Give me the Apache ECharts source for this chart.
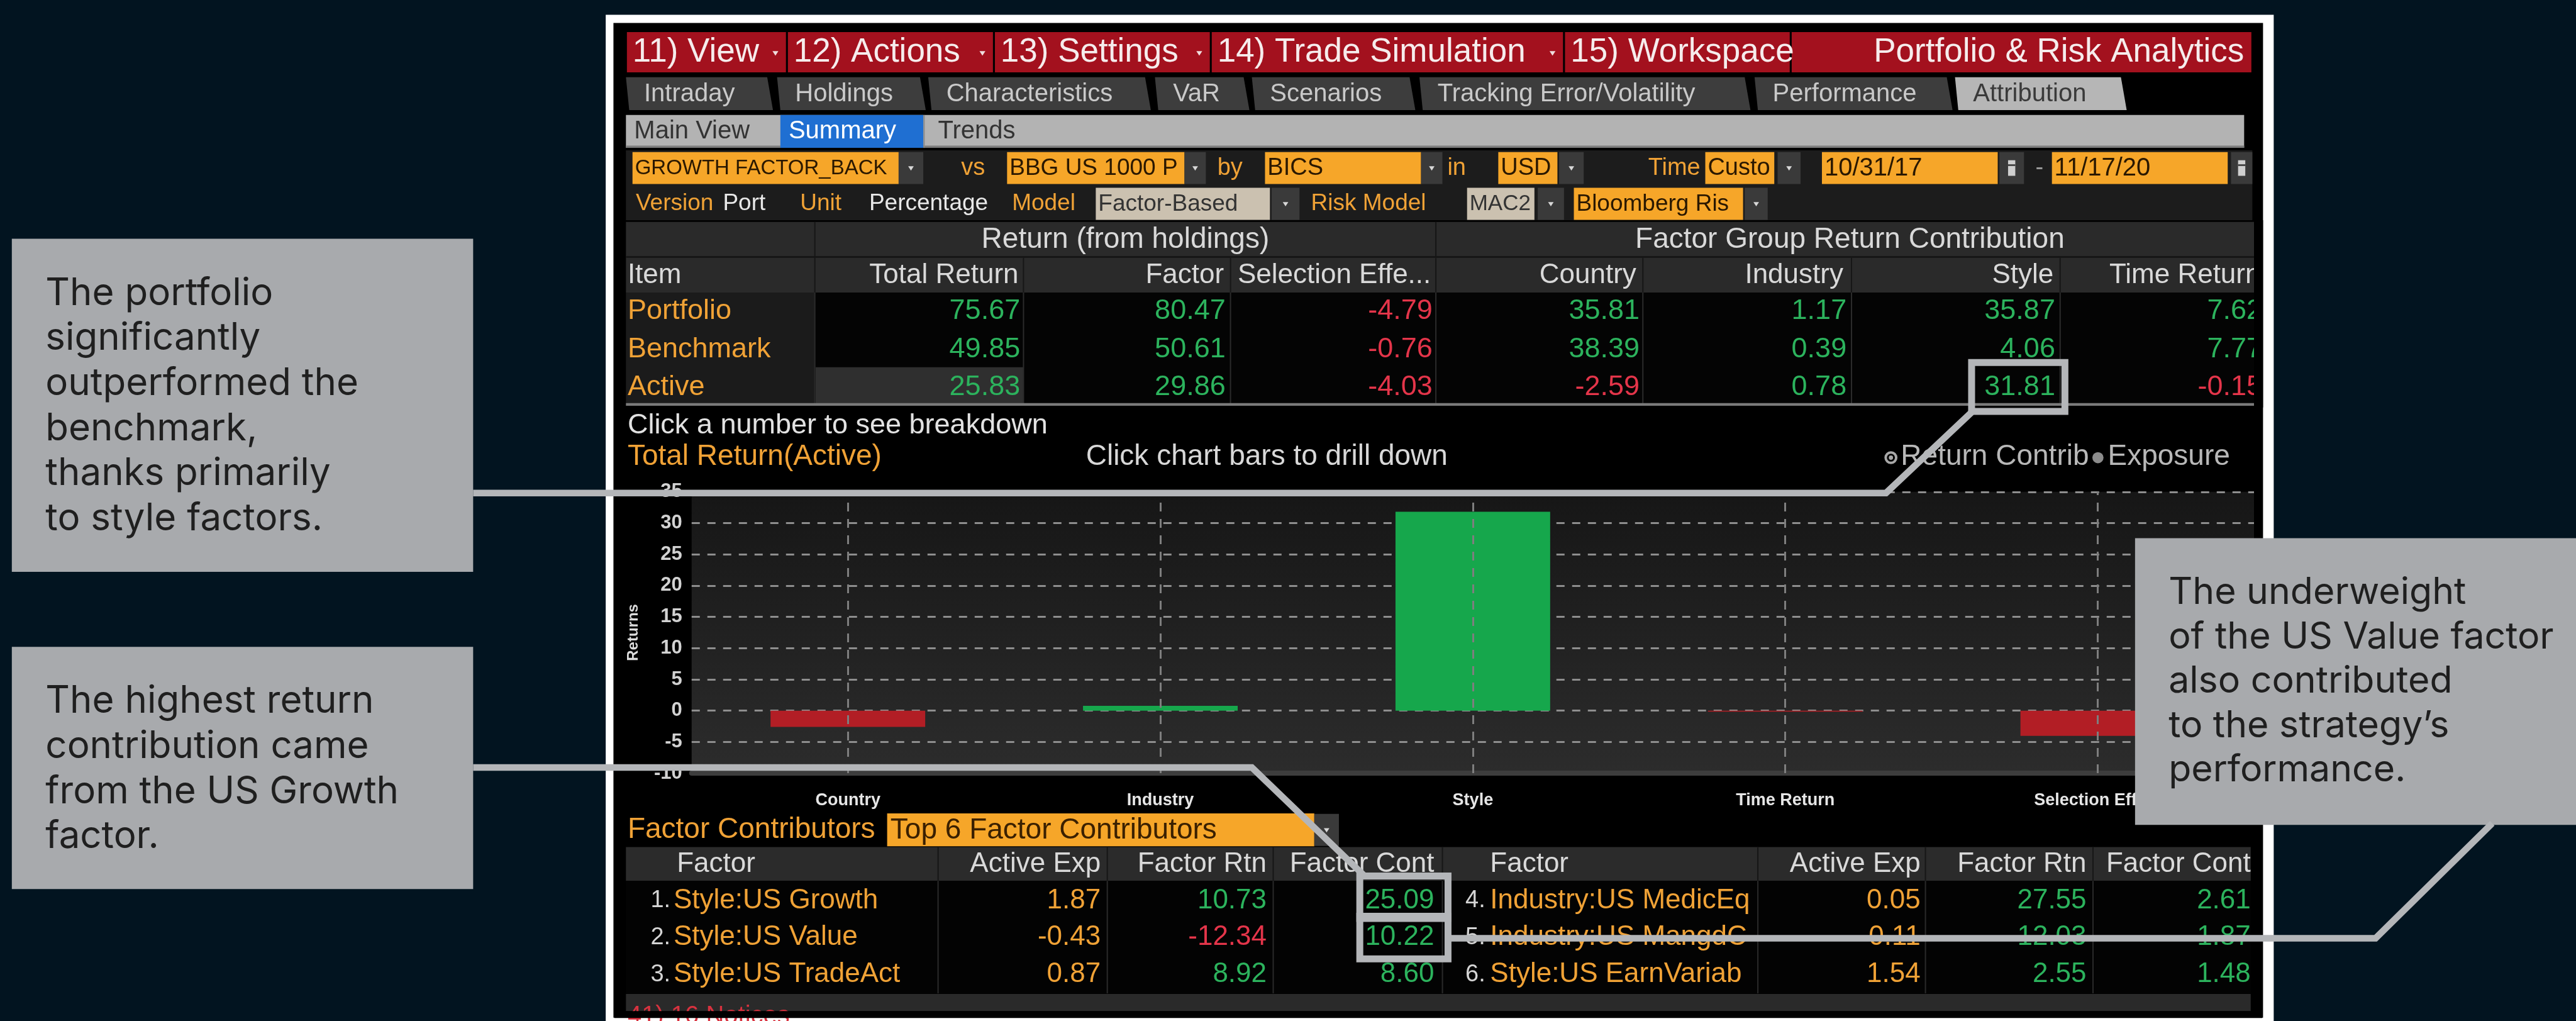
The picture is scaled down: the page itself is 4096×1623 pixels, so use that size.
<!DOCTYPE html>
<html><head><meta charset="utf-8">
<script src="https://cdn.jsdelivr.net/npm/echarts@6/dist/echarts.min.js"></script>
<style>html,body{margin:0;padding:0;background:#021420;}#c{width:4096px;height:1623px;}</style>
</head><body><div id="c"></div>
<script>
// ---------------- data ----------------
const categories = ['Country', 'Industry', 'Style', 'Time Return', 'Selection Effect'];
const activeReturns = [-2.59, 0.78, 31.81, -0.15, -4.03];
const yMin = -10, yMax = 35, yInterval = 5;

const returnItems = ['Portfolio', 'Benchmark', 'Active'];
const returnHeaders = ['Total Return', 'Factor', 'Selection Effe...', 'Country', 'Industry', 'Style', 'Time Return'];
const totalReturn = [75.67, 49.85, 25.83];
const factorReturn = [80.47, 50.61, 29.86];
const selectionEffect = [-4.79, -0.76, -4.03];
const countryContrib = [35.81, 38.39, -2.59];
const industryContrib = [1.17, 0.39, 0.78];
const styleContrib = [35.87, 4.06, 31.81];
const timeReturn = [7.62, 7.77, -0.15];

const factorNames = ['Style:US Growth', 'Style:US Value', 'Style:US TradeAct', 'Industry:US MedicEq', 'Industry:US MangdCo', 'Style:US EarnVariab'];
const factorActiveExp = [1.87, -0.43, 0.87, 0.05, 0.11, 1.54];
const factorRtn = [10.73, -12.34, 8.92, 27.55, 12.03, 2.55];
const factorCont = [25.09, 10.22, 8.60, 2.61, 1.87, 1.48];

const menuLabels = ['11) View', '12) Actions', '13) Settings', '14) Trade Simulation', '15) Workspace', 'Portfolio & Risk Analytics'];
const tabLabels = ['Intraday', 'Holdings', 'Characteristics', 'VaR', 'Scenarios', 'Tracking Error/Volatility', 'Performance', 'Attribution'];
const note1 = ['The portfolio', 'significantly', 'outperformed the', 'benchmark,', 'thanks primarily', 'to style factors.'];
const note2 = ['The highest return', 'contribution came', 'from the US Growth', 'factor.'];
const note3 = ['The underweight', 'of the US Value factor', 'also contributed', 'to the strategy\u2019s', 'performance.'];

// ---------------- layout helpers ----------------
const S = 4096 / 1568;
const P = v => +(v * S).toFixed(2);
const TF = '"Liberation Sans", Arial, Helvetica, sans-serif';
const AF = 'Inter, "Noto Sans", "Liberation Sans", sans-serif';
const ORANGE = '#f0a236', GREEN = '#2cb35d', RED = '#e4354a', HEAD = '#d9d9d9', LINEC = '#b4b6b9';
const E = [];
function rect(x, y, w, h, fill, z = -10) { E.push({type: 'rect', silent: true, z, shape: {x: P(x), y: P(y), width: P(w), height: P(h)}, style: {fill}}); }
function text(x, y, t, fill, size, align = 'left', z = -8, extra = {}, fam = TF) {
  E.push({type: 'text', silent: true, z, x: P(x), y: P(y), style: Object.assign({text: t, fill, fontSize: size, fontFamily: fam, align, textAlign: align, verticalAlign: 'middle', textVerticalAlign: 'middle'}, extra)});
}
function tri(cx, cy, w, h, fill, z = -8) { E.push({type: 'polygon', silent: true, z, shape: {points: [[P(cx - w / 2), P(cy - h / 2)], [P(cx + w / 2), P(cy - h / 2)], [P(cx), P(cy + h / 2)]]}, style: {fill}}); }
function poly(pts, fill, z = -10) { E.push({type: 'polygon', silent: true, z, shape: {points: pts.map(p => [P(p[0]), P(p[1])])}, style: {fill}}); }
function seg(x1, y1, x2, y2, stroke, w, z = -9) { E.push({type: 'line', silent: true, z, shape: {x1: P(x1), y1: P(y1), x2: P(x2), y2: P(y2)}, style: {stroke, lineWidth: w}}); }
function pline(pts, stroke, w, z) { E.push({type: 'polyline', silent: true, z, shape: {points: pts.map(p => [P(p[0]), P(p[1])])}, style: {stroke, lineWidth: w, lineJoin: 'miter', fill: null}}); }
function sbox(x, y, w, h, stroke, lw, z) { E.push({type: 'rect', silent: true, z, shape: {x: P(x), y: P(y), width: P(w), height: P(h)}, style: {fill: null, stroke, lineWidth: lw}}); }
const fmt = v => v.toFixed(2);

// ---------------- frame ----------------
rect(368.7, 9, 1015.3, 640, '#ffffff', -13);
rect(373.4, 14, 1004.1, 605.3, '#000000', -12);

// ---------------- menu bar ----------------
const menuX = [381, 479, 605, 737, 952, 1090, 1371];
menuLabels.forEach((m, i) => {
  const x0 = menuX[i], x1 = menuX[i + 1];
  rect(x0 + 0.6, 19.5, x1 - x0 - 1.2, 24.5, '#a3111e');
  if (i === 5) text(x1 - 5, 31.8, m, '#f6ecec', 53, 'right');
  else text(x0 + 4, 31.8, m, '#f6ecec', 53);
  if (i < 4) tri(x1 - 7, 32.5, 3.6, 2.8, '#f0dede');
});

// ---------------- tabs ----------------
const tabX = [[381, 469], [473, 562], [565, 699], [703, 759], [762, 860], [864, 1064], [1068, 1187], [1190, 1293]];
tabLabels.forEach((t, i) => {
  const [x0, x1] = tabX[i];
  const act = i === 7;
  poly([[x0, 47], [x1 - 2, 47], [x1 + 1.5, 67], [x0 + 2, 67]], act ? '#b6b6b6' : '#3d3d3d');
  text(x0 + 11, 57.3, t, act ? '#3a3a3a' : '#c9c9c9', 40);
});

// ---------------- sub tabs ----------------
rect(381, 70, 985, 20, '#b3b3b3');
rect(381, 88.6, 985, 1.4, '#7d7d7d', -9);
rect(475, 70, 87, 20, '#1f6fd2', -9);
seg(562.5, 70, 562.5, 90, '#8a8a8a', 2);
text(386, 80, 'Main View', '#333333', 40);
text(480, 80, 'Summary', '#ffffff', 40);
text(571, 80, 'Trends', '#333333', 40);

// ---------------- selector rows ----------------
rect(381, 91.5, 990, 42.5, '#1c1c1c');
function obox(x0, x1, y, t, fill, col, size, trunc = true) {
  rect(x0, y, x1 - x0, 19.5, fill, -9);
  text(x0 + 1.5, y + 10, t, col, size, 'left', -8, trunc ? {width: P(x1 - x0 - 2), overflow: 'truncate', ellipsis: ''} : {});
}
function dd(x0, x1, y) { rect(x0, y, x1 - x0, 19.5, '#3a3a3a', -9); tri((x0 + x1) / 2, y + 10, 3.4, 2.6, '#d8d8d8'); }
function cal(x0, x1, y) { rect(x0, y, x1 - x0, 19.5, '#3a3a3a', -9); rect((x0 + x1) / 2 - 2.2, y + 5, 4.4, 9.5, '#cfcfcf', -8); rect((x0 + x1) / 2 - 2.2, y + 7.5, 4.4, 1, '#3a3a3a', -7); }
const OB = '#f6a629', OT = '#2a1800';
obox(385, 547, 92.5, 'GROWTH FACTOR_BACKT', OB, OT, 33); dd(547, 562, 92.5);
text(585, 102.5, 'vs', ORANGE, 38);
obox(613, 721, 92.5, 'BBG US 1000 P', OB, OT, 37); dd(721, 734, 92.5);
text(741, 102.5, 'by', ORANGE, 38);
obox(770, 865, 92.5, 'BICS', OB, OT, 38); dd(865, 878, 92.5);
text(881, 102.5, 'in', ORANGE, 38);
obox(912, 948, 92.5, 'USD', OB, OT, 38); dd(949, 964, 92.5);
text(1035, 102.5, 'Time', ORANGE, 38, 'right');
obox(1038, 1080, 92.5, 'Custo', OB, OT, 38); dd(1082, 1096, 92.5);
obox(1109, 1216, 92.5, '10/31/17', OB, OT, 40); cal(1217, 1232, 92.5);
text(1239, 102.5, '-', '#9a9a9a', 38);
obox(1249, 1356, 92.5, '11/17/20', OB, OT, 40); cal(1358, 1371, 92.5);

text(387, 124, 'Version', ORANGE, 37);
text(440, 124, 'Port', '#e8e8e8', 37);
text(487, 124, 'Unit', ORANGE, 37);
text(529, 124, 'Percentage', '#e8e8e8', 37);
text(616, 124, 'Model', ORANGE, 37);
obox(667, 773, 114.3, 'Factor-Based', '#cbc1b0', '#333333', 37); dd(774, 791, 114.3);
text(798, 124, 'Risk Model', ORANGE, 37);
obox(893, 934, 114.3, 'MAC2', '#cbc1b0', '#333333', 35, false); dd(936, 952, 114.3);
obox(958, 1061, 114.3, 'Bloomberg Ris', OB, OT, 37); dd(1062, 1076, 114.3);

// ---------------- returns table ----------------
const colB = [496, 623, 749, 874, 1000, 1127, 1254];
rect(381, 135, 991, 43, '#2a2a2a');
rect(381, 155.8, 991, 1.2, '#161616', -9);
[496, 874].forEach(x => seg(x, 135, x, 156, '#161616', 2));
colB.forEach(x => seg(x, 157, x, 178, '#161616', 2));
text(685, 146, 'Return (from holdings)', HEAD, 46, 'center');
text(1126, 146, 'Factor Group Return Contribution', HEAD, 46, 'center');
text(382, 167.5, 'Item', HEAD, 44);
const hdrRight = [620, 745, 871, 996, 1122, 1250, 1376];
returnHeaders.forEach((h, i) => text(hdrRight[i], 167.5, h, HEAD, 44, 'right'));
rect(381, 178, 115, 67.5, '#1b1b1b');
rect(496, 178, 876, 67.5, '#040404');
rect(496.5, 223.5, 126.5, 22, '#2f2f2f', -9);
colB.forEach(x => seg(x, 178, x, 245.5, '#2b2b2b', 2));
rect(381, 245.3, 991, 1.6, '#7a7a7a', -9);
const rowY = [189.5, 212.5, 235.5];
const valRight = [621, 746, 872, 998, 1124, 1251, 1377];
const tableCols = [totalReturn, factorReturn, selectionEffect, countryContrib, industryContrib, styleContrib, timeReturn];
returnItems.forEach((it, r) => {
  text(382, rowY[r], it, ORANGE, 45);
  tableCols.forEach((col, c) => text(valRight[c], rowY[r], fmt(col[r]), col[r] < 0 ? RED : GREEN, 45, 'right'));
});
rect(1372, 134, 5.5, 114, '#000000', -6); // clip right edge

// ---------------- chart header ----------------
text(382, 259, 'Click a number to see breakdown', '#e2e2e2', 45);
text(382, 278, 'Total Return(Active)', ORANGE, 46);
text(661, 278, 'Click chart bars to drill down', '#d8d8d8', 46);
E.push({type: 'circle', silent: true, z: -8, shape: {cx: P(1151), cy: P(278.5), r: P(3.2)}, style: {fill: '#000', stroke: '#a8a8a8', lineWidth: 4}});
E.push({type: 'circle', silent: true, z: -7, shape: {cx: P(1151), cy: P(278.5), r: P(1.3)}, style: {fill: '#a8a8a8'}});
text(1157, 278, 'Return Contrib', '#b8b8b8', 46);
E.push({type: 'circle', silent: true, z: -8, shape: {cx: P(1277), cy: P(278.5), r: P(3.4)}, style: {fill: '#8c8c8c'}});
text(1283, 278, 'Exposure', '#b8b8b8', 46);
// plot background
E.push({type: 'rect', silent: true, z: -9, shape: {x: P(421), y: P(299.3), width: P(951), height: P(171.2)},
  style: {fill: {type: 'linear', x: 0, y: 0, x2: 0, y2: 1, colorStops: [{offset: 0, color: '#161616'}, {offset: 1, color: '#2c2c2c'}]}}});

// ---------------- factor contributors ----------------
text(382, 505, 'Factor Contributors', ORANGE, 46);
rect(540, 495, 260, 20, OB, -9);
text(542, 505.5, 'Top 6 Factor Contributors', '#3a2000', 46);
dd(800, 815, 495.3);
rect(381, 515.5, 989, 20.5, '#2b2b2b');
rect(381, 536, 989, 68.5, '#030303');
const fSep = [571, 674, 775, 878, 1070, 1172, 1274];
fSep.forEach(x => { seg(x, 515.5, x, 536, '#161616', 2); seg(x, 536, x, 604.5, '#2a2a2a', 2); });
const fh = ['Factor', 'Active Exp', 'Factor Rtn', 'Factor Cont'];
const fhX = [[412, 670, 771, 873], [907, 1169, 1270, 1370]];
fhX.forEach(xs => {
  text(xs[0], 526, fh[0], HEAD, 44);
  for (let k = 1; k < 4; k++) text(xs[k], 526, fh[k], HEAD, 44, 'right');
});
const fRowY = [548, 570.5, 593];
factorNames.forEach((n, i) => {
  const side = i < 3 ? 0 : 1, r = i % 3, xs = fhX[side];
  const numX = side ? 892 : 396, nameX = side ? 907 : 410, nameW = side ? 161 : 160;
  text(numX, fRowY[r], (i + 1) + '.', '#d4d4d4', 38);
  text(nameX, fRowY[r], n, ORANGE, 44, 'left', -8, {width: P(nameW), overflow: 'truncate', ellipsis: ''});
  text(xs[1], fRowY[r], fmt(factorActiveExp[i]), ORANGE, 44, 'right');
  text(xs[2], fRowY[r], fmt(factorRtn[i]), factorRtn[i] < 0 ? RED : GREEN, 44, 'right');
  text(xs[3], fRowY[r], fmt(factorCont[i]), factorCont[i] < 0 ? RED : GREEN, 44, 'right');
});
rect(381, 604.8, 989, 10.5, '#2a2a2a');
text(382, 618.5, '41) 16 Notices', '#d8323f', 40);
rect(374, 615.3, 1003, 4.2, '#000000', -6);

// ---------------- annotations (overlay) ----------------
const BOX = '#a8aaad', LW = 10.5;
rect(7.2, 145.3, 280.8, 202.7, BOX, 100);
rect(7.2, 393.6, 280.8, 147.4, BOX, 100);
rect(1299.6, 327.5, 280, 174.5, BOX, 100);
note1.forEach((l, i) => text(27.7, 178.7 + i * 27.4, l, '#1f1f1f', 60, 'left', 101, {}, AF));
note2.forEach((l, i) => text(27.7, 427 + i * 27.4, l, '#1f1f1f', 60, 'left', 101, {}, AF));
note3.forEach((l, i) => text(1320, 360.7 + i * 27, l, '#1f1f1f', 59, 'left', 101, {}, AF));
pline([[288, 300], [1148, 300], [1200, 251]], LINEC, LW, 102);
pline([[288, 467], [762, 467], [830, 532.5]], LINEC, LW, 102);
pline([[883, 571], [1446, 571], [1517, 501]], LINEC, LW, 102);
sbox(1200.1, 220.6, 56.8, 29.8, LINEC, 11, 103);
sbox(827.7, 533.1, 53.7, 25.8, LINEC, 11, 103);
sbox(827.7, 557.6, 53.7, 25.9, LINEC, 11, 103);

// ---------------- chart ----------------
const chart = echarts.init(document.getElementById('c'), null, {renderer: 'canvas'});
chart.setOption({
  backgroundColor: '#021420',
  animation: false,
  graphic: {elements: E},
  grid: {left: P(421), top: P(299.3), width: P(951), height: P(171.2), containLabel: false},
  xAxis: {
    type: 'category', data: categories,
    axisLine: {onZero: false, lineStyle: {color: '#3d3d3d', width: 8}},
    axisTick: {show: false},
    axisLabel: {color: '#e6e6e6', fontSize: 27, fontWeight: 'bold', fontFamily: TF, margin: 30},
    splitLine: {show: false}
  },
  yAxis: {
    type: 'value', min: yMin, max: yMax, interval: yInterval,
    name: 'Returns', nameLocation: 'middle', nameGap: 80, nameRotate: 90,
    nameTextStyle: {color: '#dcdcdc', fontSize: 24, fontWeight: 'bold', fontFamily: TF},
    axisLine: {show: false}, axisTick: {show: false},
    axisLabel: {color: '#d2d2d2', fontSize: 31, fontWeight: 'bold', fontFamily: TF, margin: 15},
    splitLine: {lineStyle: {color: '#8e8e8e', width: 3, type: [13, 12]}}
  },
  series: [
    {type: 'line', z: 1, data: categories.map(() => null), symbol: 'none', silent: true,
      markLine: {silent: true, symbol: 'none', label: {show: false}, animation: false,
        lineStyle: {color: '#7e7e7e', width: 3, type: [14, 12]},
        data: categories.map(c => ({xAxis: c}))}},
    {type: 'bar', z: 3, barWidth: '49.5%', silent: true,
      data: activeReturns.map(v => ({value: v, itemStyle: {color: v >= 0 ? '#16a74c' : '#b21e25'}}))}
  ]
});
</script>
</body></html>
